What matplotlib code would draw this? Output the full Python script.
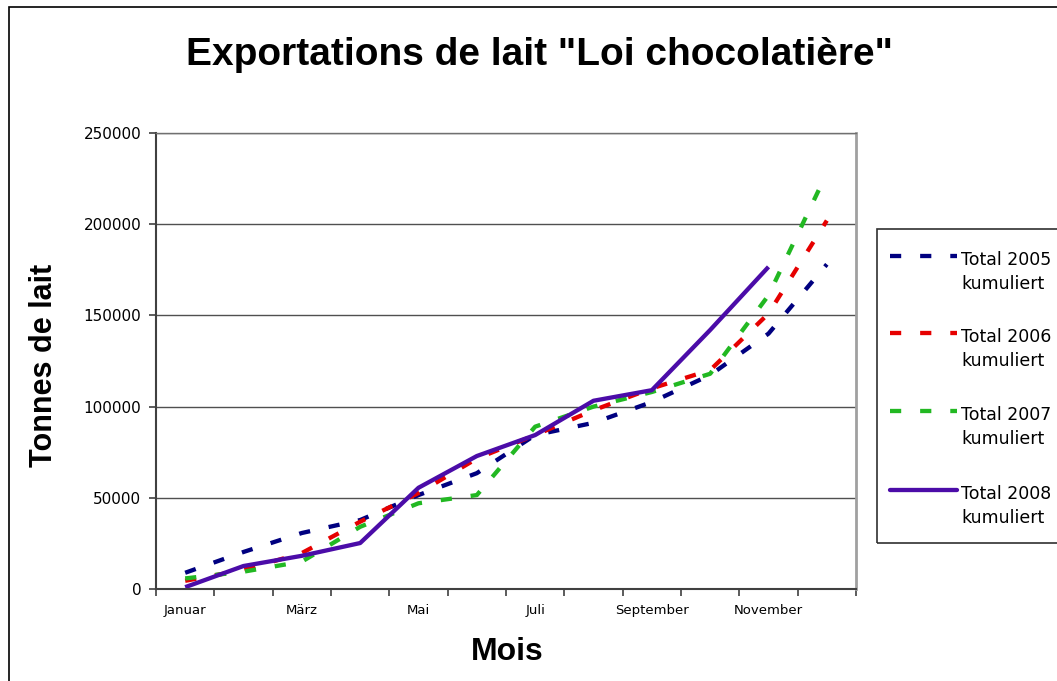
import matplotlib
matplotlib.use('Agg')
import matplotlib.pyplot as plt
from matplotlib.lines import Line2D
from matplotlib.patches import Rectangle
import numpy as np

matplotlib.rcParams['font.family'] = ['DejaVu Sans']

# Daten
mois = ['Januar', 'Februar', 'März', 'April', 'Mai', 'Juni', 'Juli',
        'August', 'September', 'Oktober', 'November', 'Dezember']
total_2005 = [8900, 20300, 30700, 37800, 51500, 63500, 84400, 91100, 102500, 117300, 140000, 178000]
total_2006 = [4500, 10400, 19700, 36900, 52600, 71500, 84400, 98000, 110000, 120000, 151000, 202000]
total_2007 = [5800, 9500, 15000, 34100, 47000, 51500, 89000, 100000, 108000, 118000, 161000, 228000]
total_2008 = [1000, 12600, 18200, 25200, 55500, 72900, 84400, 103200, 109000, 142000, 176600]

labels = ['Total 2005\nkumuliert', 'Total 2006\nkumuliert',
          'Total 2007\nkumuliert', 'Total 2008\nkumuliert']
colors = ['#000080', '#E60000', '#22B822', '#4B0CA8']
series = [total_2005, total_2006, total_2007, total_2008]
styles = [(0, (2.6, 4.4)), (0, (2.6, 4.4)), (0, (2.6, 4.4)), '-']

W, H = 1057, 681
fig = plt.figure(figsize=(W / 100, H / 100), dpi=100)
ax = fig.add_axes([156 / W, 1 - 589 / H, 700 / W, 456 / H])

for vals, c, ls in zip(series, colors, styles):
    x = np.arange(len(vals))
    ax.plot(x, vals, color=c, lw=3.1, linestyle=ls, solid_capstyle='butt')

ax.set_xlim(-0.5, 11.5)
ax.set_ylim(0, 250000)
ax.set_yticks(np.arange(0, 250001, 50000))
ax.yaxis.grid(True, color='#505050', lw=1)
ax.set_axisbelow(True)

# Ticks an den Grenzen, Beschriftung jeden zweiten Monat
ax.set_xticks(np.arange(-0.5, 12, 1))
ax.set_xticklabels([])
ax.set_xticks(np.arange(0, 12, 2), minor=True)
ax.set_xticklabels(mois[::2], minor=True, fontsize=9.5)
ax.tick_params(axis='x', which='major', length=5, width=1.2, color='#404040')
ax.tick_params(axis='x', which='minor', length=0, pad=11)
ax.tick_params(axis='y', length=5, width=1.2, color='#404040', labelsize=11, pad=5.5)

for s in ['left', 'bottom']:
    ax.spines[s].set_color('#404040')
    ax.spines[s].set_linewidth(1.5)
ax.spines['top'].set_color('#707070')
ax.spines['top'].set_linewidth(1)
ax.spines['right'].set_color('#a0a0a0')
ax.spines['right'].set_linewidth(2)

fig.text(539 / W, 1 - 55 / H, 'Exportations de lait "Loi chocolatière"',
         ha='center', va='center', fontsize=28, fontweight='bold',
         family='Liberation Sans')
fig.text(507 / W, 1 - 652 / H, 'Mois', ha='center', va='center',
         fontsize=23, fontweight='bold', family='Liberation Sans')
fig.text(44 / W, 1 - 365 / H, 'Tonnes de lait', ha='center', va='center',
         rotation=90, fontsize=22, fontweight='bold', family='Liberation Sans')

# Rahmen um die Grafik
fig.add_artist(Rectangle((9 / W, -0.1), 1.2, 1 - 7 / H + 0.1, transform=fig.transFigure,
                         fill=False, edgecolor='black', lw=1.2, clip_on=False))

# Legende
fig.add_artist(Rectangle((877 / W, 1 - 543 / H), 0.5, 314 / H, transform=fig.transFigure,
                         fill=False, edgecolor='#303030', lw=1.2, clip_on=False))
rows = [256, 333, 411, 490]
for y, lab, c, ls in zip(rows, labels, colors, styles):
    fig.add_artist(Line2D([890 / W, 957 / W], [1 - y / H, 1 - y / H], transform=fig.transFigure,
                          color=c, lw=3.1, linestyle=ls, solid_capstyle='round'))
    fig.text(961 / W, 1 - (y - 5) / H, lab, ha='left', va='top', fontsize=12.5,
             linespacing=1.4)

fig.savefig('out.png', dpi=100)
